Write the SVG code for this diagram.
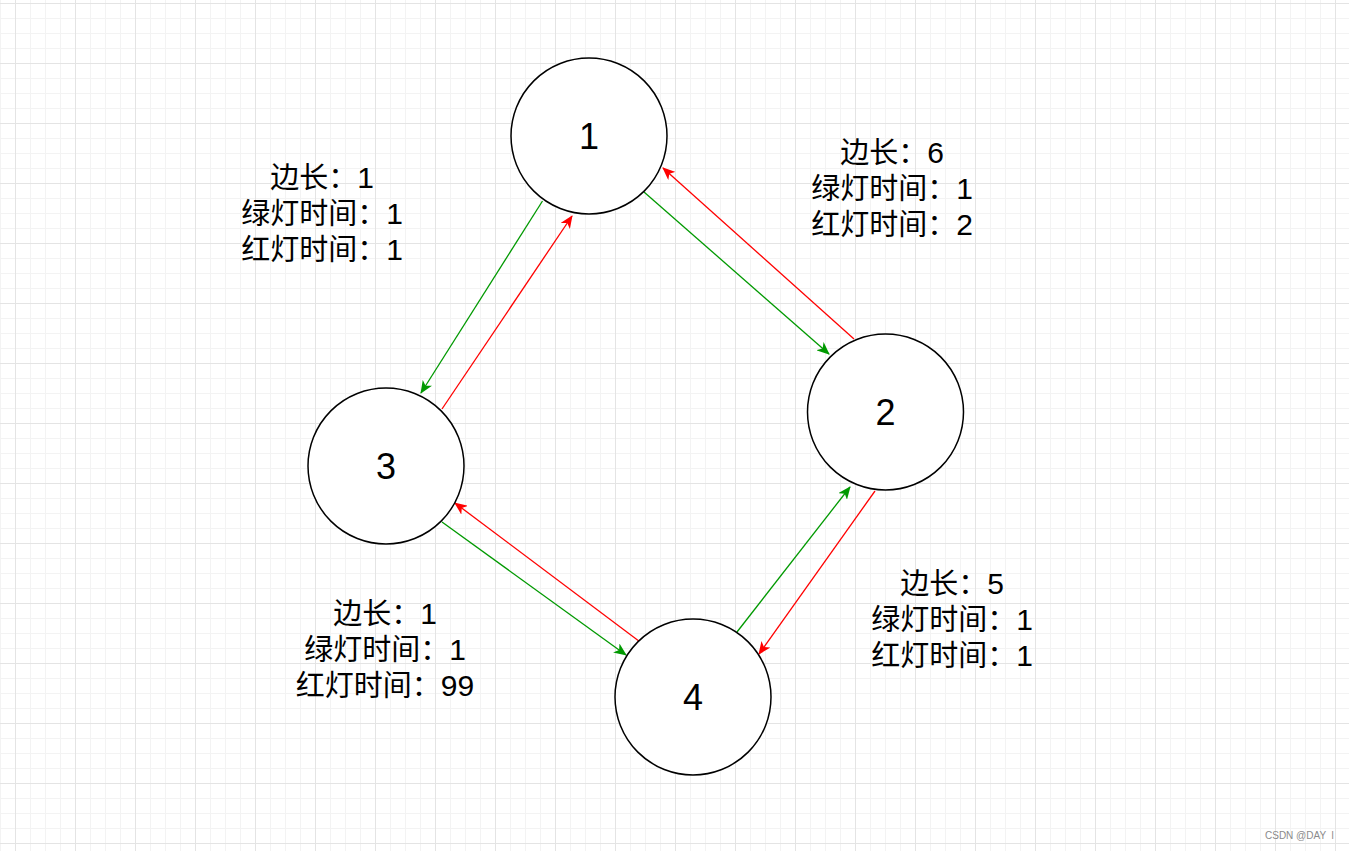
<svg xmlns="http://www.w3.org/2000/svg" width="1349" height="851" viewBox="0 0 1349 851">
<style>
.node circle{fill:#ffffff;stroke:#000000;stroke-width:1.5}
.num{font-family:"Liberation Sans","Noto Sans CJK SC",sans-serif;font-size:36px;fill:#000;text-anchor:middle}
.lbl{font-family:"Liberation Sans","Noto Sans CJK SC",sans-serif;font-size:29px;fill:#000;text-anchor:middle}
.d{font-size:30px}
.g{stroke:#009900;stroke-width:1.3;fill:none;marker-end:url(#ag)}
.r{stroke:#ff0000;stroke-width:1.3;fill:none;marker-end:url(#ar)}
.wm{font-family:"Liberation Sans",sans-serif;font-size:10px;fill:#8a8a8a}
</style>
<defs>
<pattern id="grid" patternUnits="userSpaceOnUse" x="0" y="3" width="60" height="60">
<path d="M0.5,0V60M30.5,0V60M45.5,0V60M0,15.5H60M0,30.5H60M0,45.5H60" stroke="#f3f3f3" stroke-width="1"/>
<path d="M15.5,0V60M0,0.5H60" stroke="#e4e4e4" stroke-width="1"/>
</pattern>
<marker id="ag" viewBox="0 0 13 11" refX="12" refY="5.5" markerWidth="13" markerHeight="11" markerUnits="userSpaceOnUse" orient="auto">
<path d="M13,5.5 L0,0 L3.5,5.5 L0,11 Z" fill="#009900"/>
</marker>
<marker id="ar" viewBox="0 0 13 11" refX="12" refY="5.5" markerWidth="13" markerHeight="11" markerUnits="userSpaceOnUse" orient="auto">
<path d="M13,5.5 L0,0 L3.5,5.5 L0,11 Z" fill="#ff0000"/>
</marker>
</defs>
<rect x="0" y="0" width="1349" height="851" fill="#ffffff"/>
<rect x="0" y="0" width="1349" height="851" fill="url(#grid)"/>

<g id="connectors">
<line class="g" x1="542.5" y1="201" x2="421" y2="393"/>
<line class="r" x1="442" y1="409" x2="572" y2="216"/>
<line class="g" x1="644" y1="192" x2="829" y2="354"/>
<line class="r" x1="854" y1="339" x2="663" y2="168"/>
<line class="g" x1="737" y1="632" x2="850" y2="487"/>
<line class="r" x1="875" y1="491" x2="759" y2="654"/>
<line class="g" x1="442" y1="522" x2="626" y2="655"/>
<line class="r" x1="639.5" y1="641.5" x2="455" y2="503"/>
</g>

<g id="node1" class="node"><circle cx="589" cy="136" r="78"/><text class="num" x="589" y="149">1</text></g>
<g id="node2" class="node"><circle cx="885.5" cy="412" r="78"/><text class="num" x="885.5" y="425">2</text></g>
<g id="node3" class="node"><circle cx="386" cy="466" r="78"/><text class="num" x="386" y="479">3</text></g>
<g id="node4" class="node"><circle cx="693" cy="697" r="78"/><text class="num" x="693" y="710">4</text></g>

<g id="label13">
<text class="lbl" x="322" y="188">边长：<tspan class="d">1</tspan></text>
<text class="lbl" x="322" y="224">绿灯时间：<tspan class="d">1</tspan></text>
<text class="lbl" x="322" y="260">红灯时间：<tspan class="d">1</tspan></text>
</g>
<g id="label12">
<text class="lbl" x="892" y="163">边长：<tspan class="d">6</tspan></text>
<text class="lbl" x="892" y="199">绿灯时间：<tspan class="d">1</tspan></text>
<text class="lbl" x="892" y="235">红灯时间：<tspan class="d">2</tspan></text>
</g>
<g id="label34">
<text class="lbl" x="385" y="624">边长：<tspan class="d">1</tspan></text>
<text class="lbl" x="385" y="660">绿灯时间：<tspan class="d">1</tspan></text>
<text class="lbl" x="385" y="696">红灯时间：<tspan class="d">99</tspan></text>
</g>
<g id="label24">
<text class="lbl" x="952" y="594">边长：<tspan class="d">5</tspan></text>
<text class="lbl" x="952" y="630">绿灯时间：<tspan class="d">1</tspan></text>
<text class="lbl" x="952" y="666">红灯时间：<tspan class="d">1</tspan></text>
</g>
<text class="wm" x="1265" y="839" xml:space="preserve">CSDN @DAY  l</text>
</svg>
